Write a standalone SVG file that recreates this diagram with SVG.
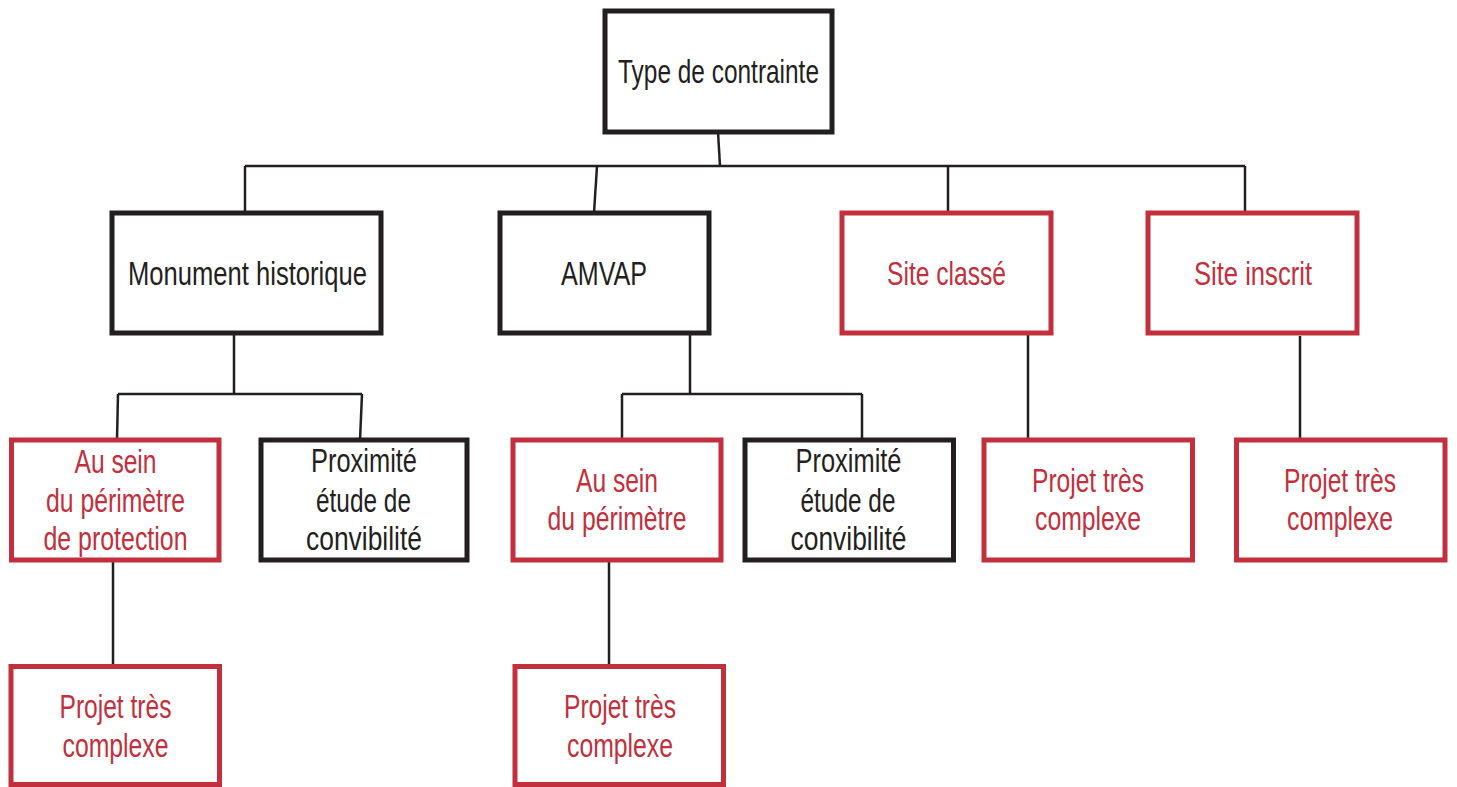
<svg xmlns="http://www.w3.org/2000/svg" width="1457" height="787" viewBox="0 0 1457 787">
<style>
.bk{fill:#ffffff;stroke:#231f20;stroke-width:5}
.rd{fill:#ffffff;stroke:#c1303c;stroke-width:5}
text{font-family:"Liberation Sans",Arial,sans-serif;font-size:33px;text-anchor:middle}
.tb{fill:#231f20}
.tr{fill:#c1303c}
#connectors path{fill:none;stroke:#231f20;stroke-width:2.5}
</style>
<rect width="1457" height="787" fill="#ffffff"/>
<g id="connectors">
<path d="M718,132 L720,166"/>
<path d="M245,166 H1245"/>
<path d="M245,166 V213"/>
<path d="M597,166 L594,213"/>
<path d="M948,166 V213"/>
<path d="M1245,166 V213"/>
<path d="M234,333 V394"/>
<path d="M118,394 H362"/>
<path d="M118,394 L117,440"/>
<path d="M362,394 L360,440"/>
<path d="M690,333 V394"/>
<path d="M622,394 H862"/>
<path d="M622,394 V440"/>
<path d="M862,394 V440"/>
<path d="M1028,333 V440"/>
<path d="M1300,336 V440"/>
<path d="M113,560 V666"/>
<path d="M609,560 V666"/>
</g>
<g id="type-contrainte">
<rect class="bk" x="605" y="11" width="227" height="121"/>
<text class="tb" x="718.5" y="83" textLength="201" lengthAdjust="spacingAndGlyphs">Type de contrainte</text>
</g>
<g id="monument-historique">
<rect class="bk" x="112" y="213" width="269" height="120"/>
<text class="tb" x="247.5" y="285" textLength="239" lengthAdjust="spacingAndGlyphs">Monument historique</text>
</g>
<g id="amvap">
<rect class="bk" x="500" y="213" width="209" height="120"/>
<text class="tb" x="604" y="285" textLength="86" lengthAdjust="spacingAndGlyphs">AMVAP</text>
</g>
<g id="site-classe">
<rect class="rd" x="842" y="213" width="209" height="120"/>
<text class="tr" x="946.5" y="285" textLength="119" lengthAdjust="spacingAndGlyphs">Site classé</text>
</g>
<g id="site-inscrit">
<rect class="rd" x="1148" y="213" width="209" height="120"/>
<text class="tr" x="1253" y="285" textLength="118" lengthAdjust="spacingAndGlyphs">Site inscrit</text>
</g>
<g id="mh-au-sein">
<rect class="rd" x="11.5" y="440" width="207.5" height="120"/>
<text class="tr" x="115.5" y="472.5" textLength="82" lengthAdjust="spacingAndGlyphs">Au sein</text>
<text class="tr" x="115.5" y="511.5" textLength="139" lengthAdjust="spacingAndGlyphs">du périmètre</text>
<text class="tr" x="115.5" y="550" textLength="144" lengthAdjust="spacingAndGlyphs">de protection</text>
</g>
<g id="mh-proximite">
<rect class="bk" x="261" y="440" width="206" height="120"/>
<text class="tb" x="364" y="472" textLength="106" lengthAdjust="spacingAndGlyphs">Proximité</text>
<text class="tb" x="363.5" y="511.5" textLength="95" lengthAdjust="spacingAndGlyphs">étude de</text>
<text class="tb" x="364" y="550" textLength="116" lengthAdjust="spacingAndGlyphs">convibilité</text>
</g>
<g id="amvap-au-sein">
<rect class="rd" x="513" y="440" width="208" height="120"/>
<text class="tr" x="617" y="491.5" textLength="82" lengthAdjust="spacingAndGlyphs">Au sein</text>
<text class="tr" x="617" y="530" textLength="139" lengthAdjust="spacingAndGlyphs">du périmètre</text>
</g>
<g id="amvap-proximite">
<rect class="bk" x="745" y="440" width="208.5" height="120"/>
<text class="tb" x="848.5" y="472" textLength="106" lengthAdjust="spacingAndGlyphs">Proximité</text>
<text class="tb" x="848" y="511.5" textLength="95" lengthAdjust="spacingAndGlyphs">étude de</text>
<text class="tb" x="848.5" y="550" textLength="116" lengthAdjust="spacingAndGlyphs">convibilité</text>
</g>
<g id="sc-projet">
<rect class="rd" x="984" y="440" width="208.5" height="120"/>
<text class="tr" x="1088" y="491.5" textLength="112" lengthAdjust="spacingAndGlyphs">Projet très</text>
<text class="tr" x="1088" y="530" textLength="106" lengthAdjust="spacingAndGlyphs">complexe</text>
</g>
<g id="si-projet">
<rect class="rd" x="1236.5" y="440" width="208.5" height="120"/>
<text class="tr" x="1340" y="491.5" textLength="112" lengthAdjust="spacingAndGlyphs">Projet très</text>
<text class="tr" x="1340" y="530" textLength="106" lengthAdjust="spacingAndGlyphs">complexe</text>
</g>
<g id="mh-projet">
<rect class="rd" x="11" y="666.5" width="208.5" height="118"/>
<text class="tr" x="115.5" y="718" textLength="112" lengthAdjust="spacingAndGlyphs">Projet très</text>
<text class="tr" x="115.5" y="757" textLength="106" lengthAdjust="spacingAndGlyphs">complexe</text>
</g>
<g id="amvap-projet">
<rect class="rd" x="515" y="666.5" width="208.5" height="118"/>
<text class="tr" x="620" y="718" textLength="112" lengthAdjust="spacingAndGlyphs">Projet très</text>
<text class="tr" x="620" y="757" textLength="106" lengthAdjust="spacingAndGlyphs">complexe</text>
</g>
</svg>
